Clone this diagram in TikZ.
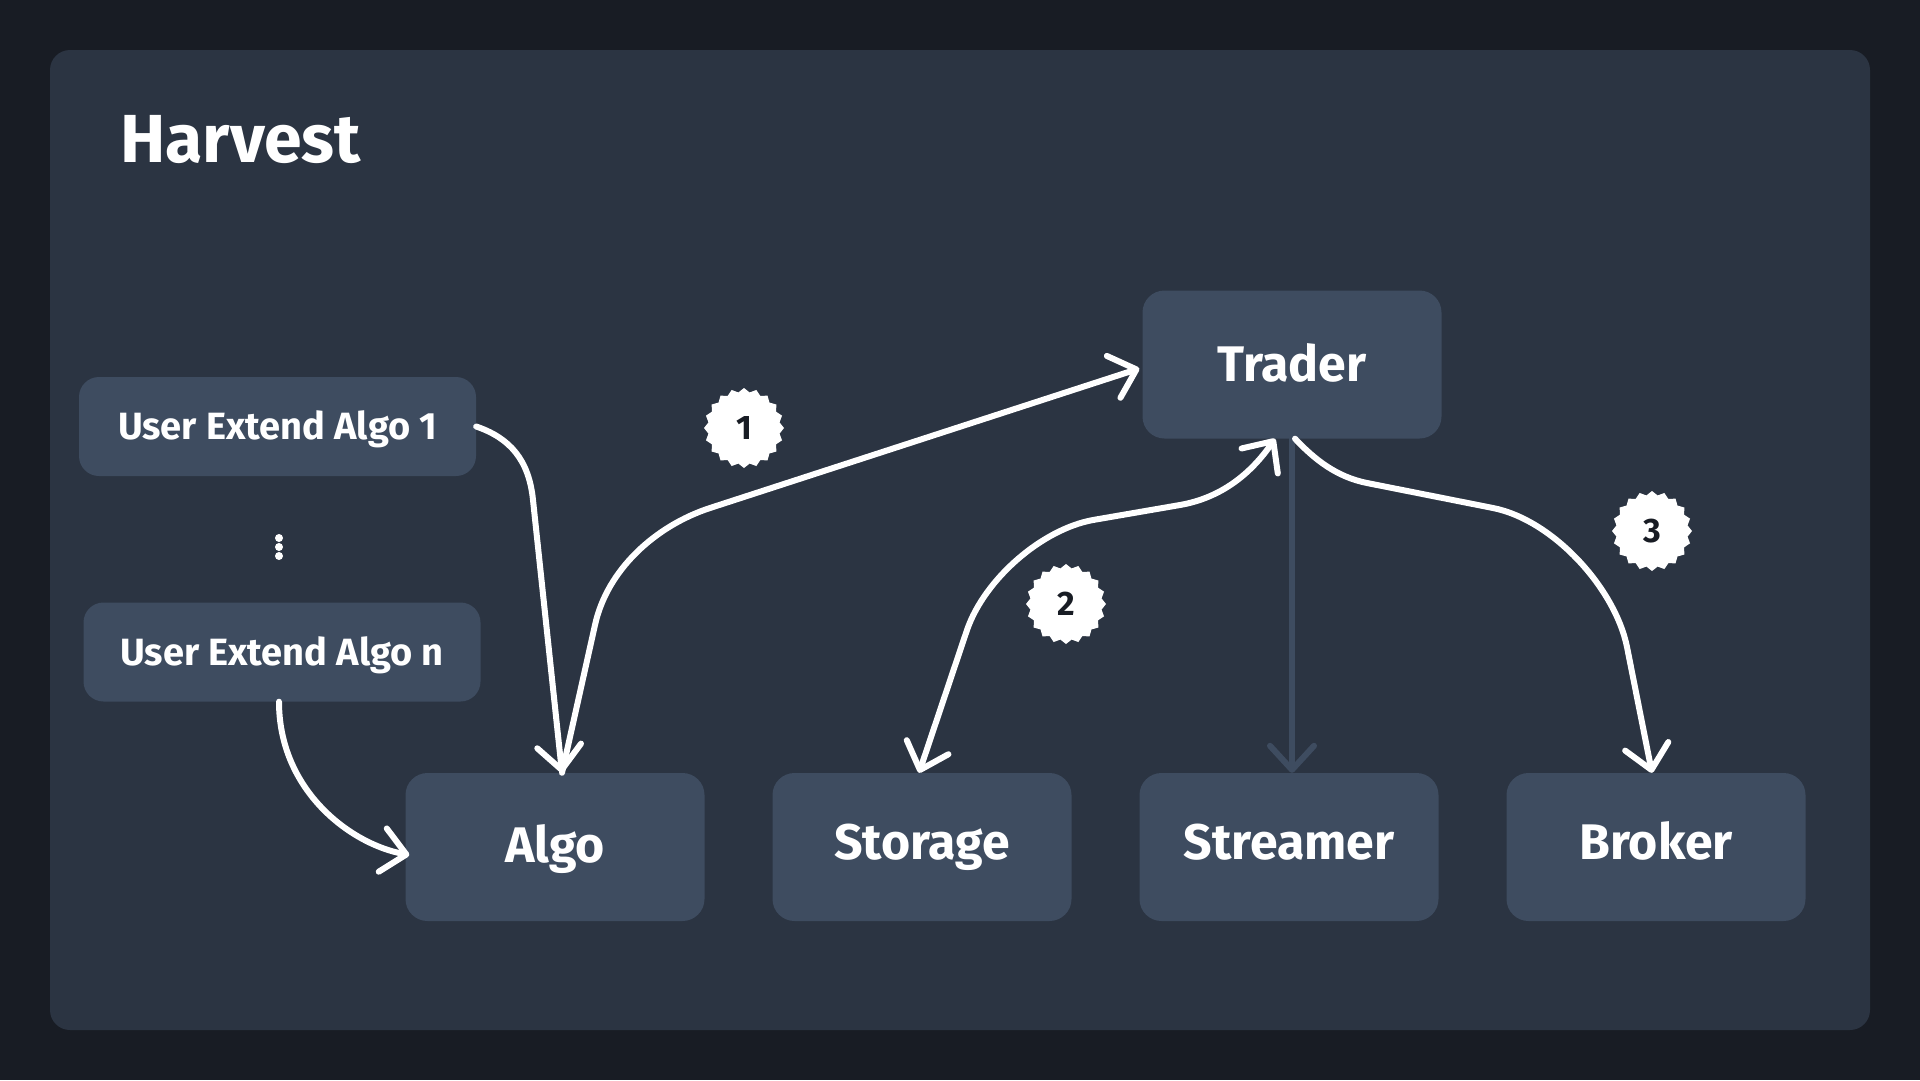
\documentclass[tikz,border=0pt]{standalone}
\usepackage{fontspec}
\setmainfont{Fira Sans}
\usepackage{tikz}
\usetikzlibrary{arrows.meta,shapes.symbols}
\definecolor{bgcol}{HTML}{181C24}
\definecolor{panelcol}{HTML}{2B3442}
\definecolor{modcol}{HTML}{3E4C60}
\definecolor{inkcol}{HTML}{181C24}

\begin{document}
\begin{tikzpicture}[x=1pt,y=-1pt,
		>={Straight Barb[length=24pt,width=44pt,round]},
		mod/.style={fill=modcol,rounded corners=22pt,text=white,inner sep=0pt,
			font=\bfseries\fontsize{50}{54}\selectfont,text height=34.5pt,text depth=10pt,
			minimum width=299pt,minimum height=148pt},
		ext/.style={mod,rounded corners=20pt,font=\bfseries\fontsize{38}{42}\selectfont,
			text height=26pt,text depth=0pt,minimum width=397pt,minimum height=99pt},
		link/.style={white,line width=6pt,line cap=round,line join=round,->},
		badge/.style={starburst,starburst points=20,starburst point height=4pt,random starburst=0,
			fill=white,text=inkcol,inner sep=0pt,minimum size=80pt,font=\bfseries\fontsize{34}{38}\selectfont}]
		\useasboundingbox[fill=bgcol] (0,0) rectangle (1920,1080);
		\fill[panelcol,rounded corners=20pt] (50,50) rectangle (1870,1030);
		\node[anchor=base west,text=white,inner sep=0pt,font=\bfseries\fontsize{68}{72}\selectfont] (title) at (120,162) {Harvest};
		
		\node[ext] (u1) at (277.5,426.5) {User Extend Algo 1};
		\node[ext] (u2) at (282,652) {User Extend Algo n};
		\foreach \y in {538,547,556} \fill[white] (279,\y) circle (4pt);
		
		\node[mod,text depth=4pt] (algo) at (555,847) {Algo};
		\node[mod] (storage) at (922,847) {Storage};
		\node[mod] (streamer) at (1289,847) {Streamer};
		\node[mod] (broker) at (1656,847) {Broker};
		\node[mod,text depth=0pt] (trader) at (1292,364.5) {Trader};
		
		\draw[link] (u1.east) .. controls (510,438) and (529,460) .. (533,500) -- ([xshift=7pt]algo.north);
		\draw[link] ([xshift=-3pt]u2.south) .. controls (279,790) and (350,844) .. ([xshift=4pt,yshift=-8pt]algo.west);
		\draw[link] ([xshift=7pt]algo.north) -- (595,625) .. controls (607,570) and (655,526) .. (710,508) -- ([xshift=-3pt,yshift=-4pt]trader.west);
		\draw[link,<->] ([xshift=-3pt]storage.north) -- (967,630) .. controls (985,578) and (1043,529) .. (1093,520) -- (1180,505) .. controls (1220,498) and (1250,475) .. ([xshift=-17pt]trader.south);
		\draw[link,color=modcol] (trader.south) -- (trader.south |- streamer.north);
		\draw[link] ([xshift=3pt]trader.south) .. controls (1315,460) and (1337,477) .. (1367,483) -- (1493,508) .. controls (1553,520) and (1615,588) .. (1627,647) -- ([xshift=-4pt]broker.north);
		
		\node[badge] (b1) at (744,428) {1};
		\node[badge] (b2) at (1066,604) {2};
		\node[badge] (b3) at (1652,531) {3};
	\end{tikzpicture}
\end{document}
